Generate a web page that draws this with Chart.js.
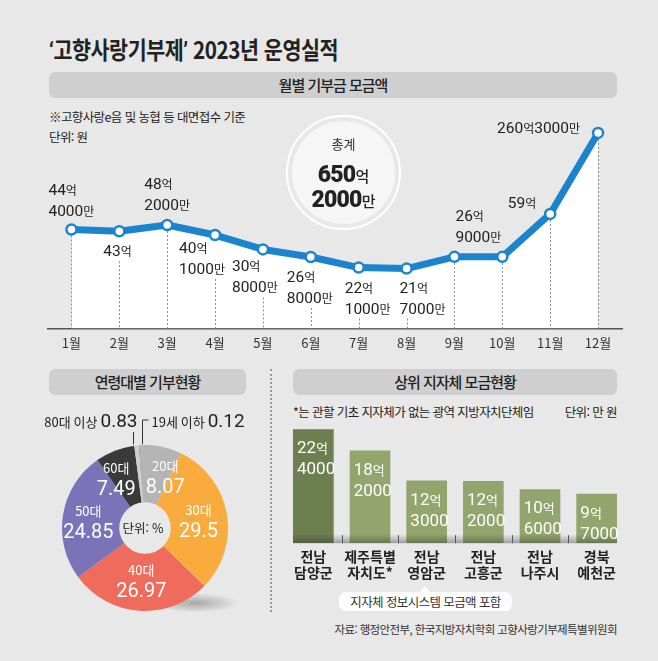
<!DOCTYPE html>
<html lang="ko">
<head>
<meta charset="utf-8">
<title>고향사랑기부제 2023년 운영실적</title>
<script src="https://cdn.jsdelivr.net/npm/chart.js@4.4.1/dist/chart.umd.min.js"></script>
<style>
  html, body { margin: 0; padding: 0; background: #e8e8e8; }
  #page {
    position: relative; width: 658px; height: 661px; overflow: hidden;
    background: #e8e8e8; color: #222;
    font-family: 'Noto Sans CJK KR', 'Noto Sans', sans-serif;
  }
  .abs { position: absolute; white-space: nowrap; }
  .title {
    left: 49px; top: 31px; font-size: 24px; font-weight: 700; line-height: 36px;
    letter-spacing: -0.5px; transform: scaleX(0.86); transform-origin: left center;
  }
  .title .q { font-family: Roboto, sans-serif; }
  .head {
    background: #cfcfcf; border-radius: 6px; text-align: center;
    font-size: 15px; line-height: 26px; height: 26px; letter-spacing: -1px; font-weight: 500;
  }
  .note { font-size: 12.5px; line-height: 18px; letter-spacing: -0.6px; }
  .sep { left: 270px; top: 369px; height: 243px; border-left: 2px dotted #9a9a9a; }
  .total {
    left: 286px; top: 115px; width: 111px; height: 111px; border-radius: 50%;
    border: 2px solid #fff;
  }
  .total .disk {
    position: absolute; left: 4px; top: 4px; right: 4px; bottom: 4px; border-radius: 50%;
    background: #f6f6f6; text-align: center;
  }
  .total .lbl { position: absolute; left: 0; right: 0; top: 13px; font-size: 13px; color: #333; }
  .total .big { position: absolute; left: 0; right: 0; font-weight: 700; line-height: 24px; }
  .total .big b { font-family: Roboto, sans-serif; font-size: 23px; letter-spacing: -0.8px; }
  .total .big span { font-size: 15px; font-weight: 500; }
  .callout {
    left: 339px; top: 592px; width: 173px; height: 19px; background: #fff; border-radius: 7px;
    text-align: center; font-size: 12.5px; line-height: 19px; letter-spacing: -0.6px; color: #333;
  }
  .callout:before {
    content: ''; position: absolute; left: 81px; top: -6px;
    border-left: 5px solid transparent; border-right: 5px solid transparent; border-bottom: 6px solid #fff;
  }
  .src { right: 41px; top: 620px; font-size: 11.5px; line-height: 18px; letter-spacing: -0.6px; color: #333; }
  canvas { position: absolute; }
</style>
</head>
<body>
<div id="page">
  <div class="abs title"><span class="q">‘</span>고향사랑기부제<span class="q">’</span> 2023년 운영실적</div>

  <div class="abs head" style="left:49px;top:72px;width:568px;">월별 기부금 모금액</div>
  <div class="abs note" style="left:49px;top:108px;">※고향사랑e음 및 농협 등 대면접수 기준</div>
  <div class="abs note" style="left:49px;top:128px;">단위: 원</div>

  <canvas id="lineChart" width="590" height="258" style="left:40px;top:100px;"></canvas>

  <div class="abs total">
    <div class="disk">
      <div class="lbl">총계</div>
      <div class="big" id="totalEok" style="top:42px;"></div>
      <div class="big" id="totalMan" style="top:67px;"></div>
    </div>
  </div>

  <div class="abs head" style="left:49px;top:369px;width:197px;">연령대별 기부현황</div>
  <canvas id="ageChart" width="200" height="256" style="left:45px;top:400px;"></canvas>

  <div class="abs sep"></div>

  <div class="abs head" style="left:293px;top:369px;width:324px;">상위 지자체 모금현황</div>
  <div class="abs note" style="left:293px;top:403px;">*는 관할 기초 지자체가 없는 광역 지방자치단체임</div>
  <div class="abs note" style="right:41px;top:403px;">단위: 만 원</div>
  <canvas id="regionChart" width="350" height="166" style="left:280px;top:420px;"></canvas>

  <div class="abs callout">지자체 정보시스템 모금액 포함</div>
  <div class="abs src">자료: 행정안전부, 한국지방자치학회 고향사랑기부제특별위원회</div>
</div>

<script>
// ─── 데이터 ──────────────────────────────────────
var months = ['1월', '2월', '3월', '4월', '5월', '6월', '7월', '8월', '9월', '10월', '11월', '12월'];
var monthlyAmounts = [44.4, 43, 48.2, 40.1, 30.8, 26.8, 22.1, 21.7, 26.9, 26.9, 59, 260.3]; // 억 원

var ageGroups = ['19세 이하', '20대', '30대', '40대', '50대', '60대', '80대 이상'];
var ageShares = [0.12, 8.07, 29.5, 26.97, 24.85, 7.49, 0.83]; // %

var regionNames = [['전남', '담양군'], ['제주특별', '자치도*'], ['전남', '영암군'], ['전남', '고흥군'], ['전남', '나주시'], ['경북', '예천군']];
var regionAmounts = [224000, 182000, 123000, 122000, 106000, 97000]; // 만 원

// ─── 스타일 ──────────────────────────────────────
var FONT_KR = "'Noto Sans CJK KR', 'Noto Sans', sans-serif";
var FONT_NUM = "Roboto, 'Noto Sans CJK KR', sans-serif";
var LINE_BLUE = '#1c84cf';

Chart.defaults.font.family = FONT_KR;
Chart.defaults.color = '#333';

// 라벨 위치 (점 기준 오프셋, 첫 줄 중심)
var lineLabelPos = [
  { dx: -23, dy: -39 }, { dx: -16, dy: 20 }, { dx: -23, dy: -41 }, { dx: -36, dy: 13 },
  { dx: -31, dy: 17 }, { dx: -24, dy: 20 }, { dx: -14, dy: 20 }, { dx: -7, dy: 19 },
  { dx: 1, dy: -41 }, null, { dx: -14, dy: -11, align: 'right' },
  { dx: -18, dy: -5, align: 'right', oneLine: true }
];
var LINE_GAP = 21;

function splitEok(v) {
  var eok = Math.floor(v + 1e-9);
  return { eok: eok, man: Math.round((v - eok) * 10000) };
}

function drawRich(ctx, parts, x, y, align) {
  var w = 0;
  parts.forEach(function (p) { ctx.font = p.font; p.w = ctx.measureText(p.t).width; w += p.w; });
  var cx = align === 'right' ? x - w : (align === 'center' ? x - w / 2 : x);
  ctx.textAlign = 'left';
  ctx.textBaseline = 'alphabetic';
  parts.forEach(function (p) { ctx.font = p.font; ctx.fillText(p.t, cx, y); cx += p.w; });
  return w;
}

function amountLines(v, oneLine) {
  var s = splitEok(v);
  var num = '15.5px ' + FONT_NUM, unit = '12px ' + FONT_KR;
  var first = [{ t: String(s.eok), font: num }, { t: '억', font: unit }];
  if (!s.man) return [first];
  var second = [{ t: String(s.man), font: num }, { t: '만', font: unit }];
  return oneLine ? [first.concat(second)] : [first, second];
}

// ─── 1. 월별 기부금 (꺾은선) ─────────────────────
var lineLabelPlugin = {
  id: 'lineLabels',
  beforeDatasetDraw: function (chart) {
    var ctx = chart.ctx, base = chart.chartArea.bottom;
    var meta = chart.getDatasetMeta(0);
    ctx.save();
    ctx.strokeStyle = '#8c8c8c';
    ctx.lineWidth = 1;
    ctx.setLineDash([2, 2]);
    meta.data.forEach(function (pt, i) {
      var pos = lineLabelPos[i];
      var y0 = pt.y + 6;
      if (pos && pos.dy > 0) {
        var n = amountLines(monthlyAmounts[i], pos.oneLine).length;
        y0 = pt.y + pos.dy + (n - 1) * LINE_GAP + 10;
      }
      var x = Math.round(pt.x) + 0.5;
      ctx.beginPath();
      ctx.moveTo(x, y0);
      ctx.lineTo(x, base);
      ctx.stroke();
    });
    ctx.restore();
  },
  afterDatasetsDraw: function (chart) {
    var ctx = chart.ctx;
    var meta = chart.getDatasetMeta(0);
    ctx.save();
    ctx.fillStyle = '#222';
    meta.data.forEach(function (pt, i) {
      var pos = lineLabelPos[i];
      if (!pos) return;
      var lines = amountLines(monthlyAmounts[i], pos.oneLine);
      lines.forEach(function (parts, k) {
        drawRich(ctx, parts, pt.x + pos.dx, pt.y + pos.dy + k * LINE_GAP + 5, pos.align || 'left');
      });
    });
    ctx.restore();
  }
};

new Chart(document.getElementById('lineChart'), {
  type: 'line',
  data: {
    labels: months,
    datasets: [{
      data: monthlyAmounts,
      borderColor: LINE_BLUE,
      borderWidth: 7,
      borderJoinStyle: 'round',
      borderCapStyle: 'round',
      tension: 0,
      fill: 'start',
      backgroundColor: '#ffffff',
      pointRadius: 5,
      pointBorderWidth: 2.5,
      pointBackgroundColor: '#ffffff',
      pointBorderColor: LINE_BLUE
    }]
  },
  options: {
    responsive: false,
    animation: false,
    layout: { padding: { left: 6, right: 8, top: 0, bottom: 0 } },
    plugins: { legend: { display: false }, tooltip: { enabled: false } },
    scales: {
      x: {
        offset: true,
        grid: { display: false, drawTicks: false },
        border: { display: true, color: '#555', width: 1.5 },
        ticks: { padding: 7, color: '#333', font: { size: 13 } }
      },
      y: { type: 'logarithmic', display: false, min: 7.25, max: 414.6 }
    }
  },
  plugins: [lineLabelPlugin]
});

// 총계
(function () {
  var sum = monthlyAmounts.reduce(function (a, b) { return a + b; }, 0);
  var s = splitEok(Math.round(sum * 10000) / 10000);
  document.getElementById('totalEok').innerHTML = '<b>' + s.eok + '</b><span>억</span>';
  document.getElementById('totalMan').innerHTML = '<b>' + s.man + '</b><span>만</span>';
})();

// ─── 2. 연령대별 기부현황 (도넛) ─────────────────
var ageColors = ['#5b5b5b', '#b4b4b4', '#f9ab3d', '#ef6b5c', '#7a73b8', '#3a3a3a', '#cfcfcf'];
var ageInside = [null, { dx: 10, dy: 0 }, { dx: 0, dy: 0 }, { dx: 0, dy: -3 }, { dx: -3, dy: 1 }, { dx: -9, dy: 0 }, null];
var ageOutside = [{ side: 'right', dx: 3 }, null, null, null, null, null, { side: 'left', dx: -3 }];

var ageLabelPlugin = {
  id: 'ageLabels',
  beforeDatasetsDraw: function (chart) {
    var ctx = chart.ctx;
    var arc = chart.getDatasetMeta(0).data[0];
    ctx.save();
    ctx.translate(arc.x + 62, arc.y + 75);
    ctx.scale(1, 0.22);
    var g = ctx.createRadialGradient(-12, 0, 0, -12, 0, 44);
    g.addColorStop(0, 'rgba(0,0,0,0.28)');
    g.addColorStop(1, 'rgba(0,0,0,0)');
    ctx.fillStyle = g;
    ctx.beginPath();
    ctx.arc(-4, 0, 44, 0, Math.PI * 2);
    ctx.fill();
    ctx.restore();
  },
  afterDatasetsDraw: function (chart) {
    var ctx = chart.ctx;
    var arcs = chart.getDatasetMeta(0).data;
    ctx.save();
    arcs.forEach(function (arc, i) {
      var ins = ageInside[i];
      if (ins) {
        var p = arc.tooltipPosition();
        ctx.fillStyle = '#fff';
        drawRich(ctx, [{ t: ageGroups[i], font: '13px ' + FONT_KR }], p.x + ins.dx, p.y + ins.dy - 4, 'center');
        drawRich(ctx, [{ t: String(ageShares[i]), font: '20px ' + FONT_NUM }], p.x + ins.dx, p.y + ins.dy + 18, 'center');
      }
      var out = ageOutside[i];
      if (out) {
        var a = (arc.startAngle + arc.endAngle) / 2;
        var ax = Math.round(arc.x + Math.cos(a) * arc.outerRadius + out.dx) + 0.5;
        var ay = arc.y + Math.sin(a) * arc.outerRadius;
        var ty = arc.y - arc.outerRadius - 25;
        ctx.strokeStyle = '#333';
        ctx.lineWidth = 1;
        ctx.fillStyle = '#222';
        var parts = [{ t: ageGroups[i] + ' ', font: '13px ' + FONT_KR }, { t: String(ageShares[i]), font: '19px ' + FONT_NUM }];
        ctx.beginPath();
        if (out.side === 'left') {
          ctx.moveTo(ax, ay - 1);
          ctx.lineTo(ax, ty + 12);
          ctx.stroke();
          drawRich(ctx, parts, ax + 4, ty + 7, 'right');
        } else {
          ctx.moveTo(ax, ay - 1);
          ctx.lineTo(ax, ty);
          ctx.lineTo(ax + 6, ty);
          ctx.stroke();
          drawRich(ctx, parts, ax + 9, ty + 7, 'left');
        }
      }
    });
    var c = arcs[0];
    ctx.fillStyle = '#222';
    drawRich(ctx, [{ t: '단위: %', font: '12.5px ' + FONT_KR }], c.x - 2, c.y + 5, 'center');
    ctx.restore();
  }
};

new Chart(document.getElementById('ageChart'), {
  type: 'doughnut',
  data: {
    labels: ageGroups,
    datasets: [{
      data: ageShares,
      backgroundColor: ageColors,
      borderWidth: 0,
      hoverOffset: 0
    }]
  },
  options: {
    responsive: false,
    animation: false,
    rotation: -4.4,
    radius: 83,
    cutout: 31,
    plugins: { legend: { display: false }, tooltip: { enabled: false } }
  },
  plugins: [ageLabelPlugin]
});

// ─── 3. 상위 지자체 모금현황 (막대) ──────────────
var regionColors = regionAmounts.map(function (v, i) { return i === 0 ? '#6d7e4f' : '#93a46c'; });

var regionLabelPlugin = {
  id: 'regionLabels',
  afterDatasetsDraw: function (chart) {
    var ctx = chart.ctx, area = chart.chartArea;
    var bars = chart.getDatasetMeta(0).data;
    var left = bars[0].x - bars[0].width / 2;
    var right = bars[bars.length - 1].x + bars[bars.length - 1].width / 2;
    ctx.save();
    // 바닥 그림자
    var g = ctx.createLinearGradient(0, area.bottom - 9, 0, area.bottom);
    g.addColorStop(0, 'rgba(40,40,40,0)');
    g.addColorStop(1, 'rgba(40,40,40,0.38)');
    ctx.fillStyle = g;
    ctx.fillRect(left, area.bottom - 9, right - left, 9);
    // 구분 눈금
    ctx.strokeStyle = '#555';
    ctx.lineWidth = 1;
    for (var i = 0; i < bars.length - 1; i++) {
      var x = Math.round((bars[i].x + bars[i + 1].x) / 2) + 0.5;
      ctx.beginPath();
      ctx.moveTo(x, area.bottom - 8);
      ctx.lineTo(x, area.bottom);
      ctx.stroke();
    }
    // 값 라벨
    ctx.fillStyle = '#fff';
    bars.forEach(function (bar, i) {
      var v = regionAmounts[i];
      var eok = Math.floor(v / 10000), man = v % 10000;
      var x0 = bar.x - bar.width / 2 + 4;
      drawRich(ctx, [{ t: String(eok), font: '17px ' + FONT_NUM }, { t: '억', font: '13px ' + FONT_KR }], x0, bar.y + 24, 'left');
      drawRich(ctx, [{ t: String(man), font: '17px ' + FONT_NUM }], x0, bar.y + 45, 'left');
    });
    ctx.restore();
  }
};

new Chart(document.getElementById('regionChart'), {
  type: 'bar',
  data: {
    labels: regionNames,
    datasets: [{
      data: regionAmounts,
      backgroundColor: regionColors,
      borderWidth: 0,
      barPercentage: 0.718,
      categoryPercentage: 1
    }]
  },
  options: {
    responsive: false,
    animation: false,
    layout: { padding: { left: 5, right: 5, top: 0, bottom: 0 } },
    plugins: { legend: { display: false }, tooltip: { enabled: false } },
    scales: {
      x: {
        grid: { display: false, drawTicks: false },
        border: { display: false },
        ticks: {
          padding: 6, color: '#222', maxRotation: 0, minRotation: 0, autoSkip: false,
          font: { size: 14, weight: '700', lineHeight: 1.1 }
        }
      },
      y: { display: false, min: 0, max: 242000 }
    }
  },
  plugins: [regionLabelPlugin]
});
</script>
</body>
</html>
